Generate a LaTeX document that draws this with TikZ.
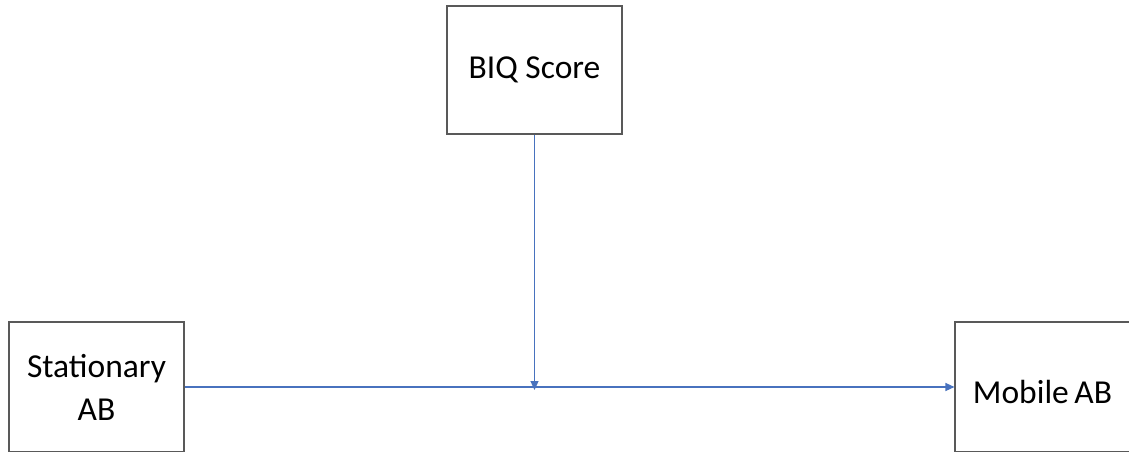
\documentclass[tikz,border=0pt]{standalone}
\usepackage{fontspec}
\setmainfont{Carlito}
\usetikzlibrary{arrows.meta}
\definecolor{linkblue}{RGB}{72,114,190}
\tikzset{
  box/.style={draw=black!65, line width=1.1pt, fill=white, minimum width=175pt, align=center, inner sep=0pt, font=\fontsize{33.5}{43}\selectfont},
  conn/.style={draw=linkblue, line width=1.1pt, -{Triangle[length=9pt,width=8pt]}}
}
\begin{document}
\begin{tikzpicture}[x=1pt,y=-1pt]
\useasboundingbox (0,0) rectangle (1129,451);
\clip (0,0) rectangle (1129,451);
\fill[white] (0,0) rectangle (1129,451);
\node[box, minimum height=128pt] (biq) at (534.5,70) {BIQ Score};
\node[box, minimum height=130pt] (stat) at (96.5,387) {Stationary\\AB};
\node[box, minimum height=130pt] (mob) at (1042.5,387) {\raisebox{-16pt}[0pt][0pt]{Mobile\hspace{-2pt} AB}};
\coordinate (mid) at (biq.south |- stat.east);
\draw[conn] (stat.east) -- (mob.west);
\draw[conn] (biq.south) -- ([yshift=-3pt]mid);
\end{tikzpicture}
\end{document}
